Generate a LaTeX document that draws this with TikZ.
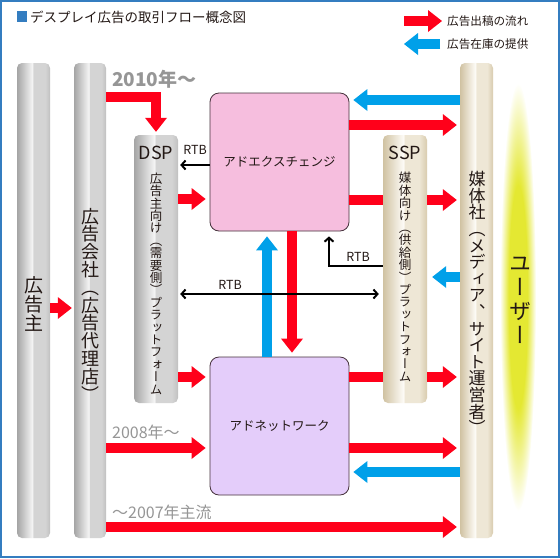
\documentclass[tikz,border=0pt]{standalone}
\usepackage{fontspec}
\setmainfont{Noto Sans CJK JP}
\newfontfamily\vjp[RawFeature=+vert]{Noto Sans CJK JP}
\usetikzlibrary{arrows.meta}
\definecolor{fred}{RGB}{255,0,26}
\definecolor{fblue}{RGB}{0,160,233}
\definecolor{txt}{RGB}{35,24,21}
\definecolor{lbl}{RGB}{150,150,150}
\definecolor{framec}{RGB}{52,125,192}
\definecolor{pinkbox}{RGB}{246,190,222}
\definecolor{lavbox}{RGB}{228,205,250}
\definecolor{boxline}{RGB}{70,50,60}
\definecolor{gpa}{RGB}{165,165,165}
\definecolor{gpb}{RGB}{244,244,244}
\definecolor{gpc}{RGB}{212,212,212}
\definecolor{gpd}{RGB}{192,192,192}
\definecolor{tpa}{RGB}{208,194,162}
\definecolor{tpb}{RGB}{253,251,246}
\definecolor{tpc}{RGB}{238,231,214}
\definecolor{tpd}{RGB}{216,203,174}
\definecolor{glowc}{RGB}{228,232,50}
\pgfdeclarehorizontalshading{graypill}{100bp}{color(0bp)=(gpa); color(25bp)=(gpa); color(48bp)=(gpb); color(50bp)=(gpc); color(68bp)=(gpc); color(75bp)=(gpd); color(100bp)=(gpd)}
\pgfdeclarehorizontalshading{tanpill}{100bp}{color(0bp)=(tpa); color(25bp)=(tpa); color(48bp)=(tpb); color(50bp)=(tpc); color(66bp)=(tpc); color(75bp)=(tpd); color(100bp)=(tpd)}
\pgfdeclareradialshading{glowshade}{\pgfpoint{0bp}{0bp}}{color(0bp)=(glowc); color(13bp)=(glowc); color(25bp)=(white); color(50bp)=(white)}
\begin{document}
\begin{tikzpicture}[x=1pt,y=-1pt,
  gpillar/.style={shade, shading=graypill, rounded corners=5pt, inner sep=0pt, draw=none},
  tpillar/.style={shade, shading=tanpill, rounded corners=5pt, inner sep=0pt, draw=none},
  ebox/.style={draw=boxline, line width=0.8pt, rounded corners=9pt, minimum width=139pt, minimum height=138pt, inner sep=0pt, text=txt, font=\fontsize{12.5}{14}\selectfont},
  fatR/.style={draw=fred, line width=10pt, -{Triangle[length=14pt,width=22pt,line width=0pt]}},
  fatB/.style={draw=fblue, line width=10pt, -{Triangle[length=14pt,width=22pt,line width=0pt]}},
  fatline/.style={draw=fred, line width=10pt},
  rtb/.style={draw=black, line width=2pt, -{Straight Barb[length=4pt,width=9pt]}},
  rtbboth/.style={draw=black, line width=2pt, {Straight Barb[length=4pt,width=9pt]}-{Straight Barb[length=4pt,width=9pt]}},
  rtblbl/.style={inner sep=0pt, text=txt, font=\fontsize{12.5}{14}\selectfont},
  vstack/.style 2 args={align=center, inner sep=0pt, text=txt, font=\vjp\fontsize{#1}{#2}\selectfont},
  yearlbl/.style={anchor=west, inner sep=0pt, text=lbl, font=\fontsize{16}{18}\selectfont},
  legtxt/.style={anchor=west, inner sep=0pt, text=txt, font=\fontsize{11.6}{13}\selectfont}
]
\useasboundingbox (0,0) rectangle (560,558);
\fill[white] (0,0) rectangle (560,558);
\draw[framec, line width=2pt] (1,1) rectangle (559,557);

% title
\fill[framec] (17,11) rectangle (27,22);
\node[anchor=west, inner sep=0pt, text=txt, font=\fontsize{13.5}{15}\selectfont] (title) at (30,17) {デスプレイ広告の取引フロー概念図};

% legend
\coordinate (lgR1) at (404,21);
\coordinate (lgR2) at (442,21);
\coordinate (lgB1) at (440,44);
\coordinate (lgB2) at (404,44);
\draw[fatR] (lgR1) -- (lgR2);
\draw[fatB] (lgB1) -- (lgB2);
\node[legtxt] (leg1) at (447,21) {広告出稿の流れ};
\node[legtxt] (leg2) at (447,44) {広告在庫の提供};

% user glow
\shade[shading=glowshade] (518,297) ellipse [x radius=18, y radius=214];

% pillars
\node[gpillar, minimum width=33pt, minimum height=475pt] (adv) at (33.5,300.5) {};
\node[gpillar, minimum width=32pt, minimum height=475pt] (agency) at (90,300.5) {};
\node[gpillar, minimum width=44pt, minimum height=268pt] (dsp) at (156,269) {};
\node[tpillar, minimum width=44pt, minimum height=268pt] (ssp) at (405,269) {};
\node[tpillar, minimum width=33pt, minimum height=475pt] (media) at (476.5,300.5) {};

% boxes
\node[ebox, fill=pinkbox] (adex) at (279.5,162) {アドエクスチェンジ};
\node[ebox, fill=lavbox] (adnet) at (279.5,426) {アドネットワーク};

% pillar texts
\node[vstack={19}{19}] (advtxt) at (34,304) {広\\告\\主};
\node[vstack={18}{17.8}] (agtxt) at (90,304.5) {広\\告\\会\\社\\（\\広\\告\\代\\理\\店\\）};
\node[inner sep=0pt, text=txt, font=\fontsize{18}{20}\selectfont] (dsplbl) at (156,153) {DSP};
\node[inner sep=0pt, text=txt, font=\fontsize{18}{20}\selectfont] (ssplbl) at (405,153) {SSP};
\node[vstack={12.5}{12.4}] (dsptxt) at (156,283.5) {広\\告\\主\\向\\け\\（\\需\\要\\側\\）\\プ\\ラ\\ッ\\ト\\フ\\ォ\\ー\\ム};
\node[vstack={12.5}{12.4}] (ssptxt) at (405,277) {媒\\体\\向\\け\\（\\供\\給\\側\\）\\プ\\ラ\\ッ\\ト\\フ\\ォ\\ー\\ム};
\node[vstack={17}{16.6}] (medtxt) at (477,303) {媒\\体\\社\\（\\メ\\デ\\ィ\\ア\\、\\サ\\イ\\ト\\運\\営\\者\\）};
\node[vstack={22}{24}] (usertxt) at (520,300.5) {ユ\\ー\\ザ\\ー};

% year labels
\node[yearlbl, font=\bfseries\fontsize{19}{21}\selectfont] (y2010) at (112,79) {2010年～};
\node[yearlbl] (y2008) at (112,432) {2008年～};
\node[yearlbl] (y2007) at (112,512) {～2007年主流};

% red flows
\draw[fatR, shorten >=2pt] (adv.east |- 0,308) -- (agency.west |- 0,308);
\draw[fatR, shorten >=3pt] (agency.east |- 0,97) -| (dsp.north);
\draw[fatR, shorten >=4pt] (dsp.east |- 0,199) -- (adex.west |- 0,199);
\draw[fatR, shorten >=4pt] (dsp.east |- 0,377) -- (adnet.west |- 0,377);
\draw[fatR, shorten >=4pt] (agency.east |- 0,448) -- (adnet.west |- 0,448);
\draw[fatR, shorten >=3pt] (agency.east |- 0,527) -- (media.west |- 0,527);
\draw[fatR, shorten >=3pt] (adex.east |- 0,125) -- (media.west |- 0,125);
\draw[fatline] (adex.east |- 0,200) -- (ssp.west |- 0,200);
\draw[fatR, shorten >=3pt] (ssp.east |- 0,200) -- (media.west |- 0,200);
\draw[fatline] (adnet.east |- 0,377) -- (ssp.west |- 0,377);
\draw[fatR, shorten >=3pt] (ssp.east |- 0,377) -- (media.west |- 0,377);
\draw[fatR, shorten >=3pt] (adnet.east |- 0,448) -- (media.west |- 0,448);
\draw[fatR, shorten >=4pt] (adex.south -| 292,0) -- (adnet.north -| 292,0);

% blue flows
\draw[fatB, shorten >=4pt] (media.west |- 0,100) -- (adex.east |- 0,100);
\draw[fatB, shorten >=4pt] (media.west |- 0,472) -- (adnet.east |- 0,472);
\draw[fatB, shorten >=5pt] (media.west |- 0,277) -- (ssp.east |- 0,277);
\draw[fatB, shorten >=5pt] (adnet.north -| 267,0) -- (adex.south -| 267,0);

% RTB
\draw[rtb, shorten >=2pt] (adex.west |- 0,165) -- (dsp.east |- 0,165);
\draw[rtbboth, shorten <=2pt, shorten >=4pt] (dsp.east |- 0,294) -- (ssp.west |- 0,294);
\draw[rtb, shorten >=5pt] (ssp.west |- 0,266) -| (adex.south -| 329,0);
\node[rtblbl] (rtb1) at (195,150) {RTB};
\node[rtblbl] (rtb2) at (230,285) {RTB};
\node[rtblbl] (rtb3) at (358,257) {RTB};
\end{tikzpicture}
\end{document}
